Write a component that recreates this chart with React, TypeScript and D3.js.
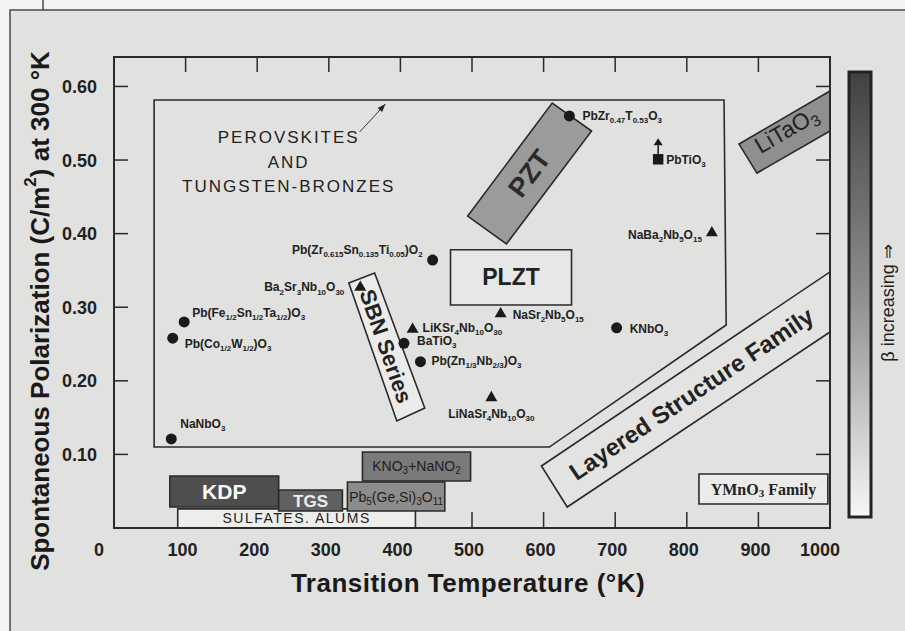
import React, { useEffect, useRef } from "react";
import * as d3 from "d3";

// ferroelectric families: spontaneous polarization vs transition temperature

const compounds = [
  "PbZr_{0.47}T_{0.53}O_3",
  "PbTiO_3",
  "NaBa_2Nb_5O_{15}",
  "Pb(Zr_{0.615}Sn_{0.135}Ti_{0.05})O_2",
  "Ba_2Sr_3Nb_{10}O_{30}",
  "Pb(Fe_{1/2}Sn_{1/2}Ta_{1/2})O_3",
  "Pb(Co_{1/2}W_{1/2})O_3",
  "NaNbO_3",
  "LiKSr_4Nb_{10}O_{30}",
  "BaTiO_3",
  "Pb(Zn_{1/3}Nb_{2/3})O_3",
  "NaSr_2Nb_5O_{15}",
  "LiNaSr_4Nb_{10}O_{30}",
  "KNbO_3",
];
const transitionK = [636, 760, 835, 445, 344, 98, 82, 80, 417, 405, 428, 540, 527, 702];
const polarization = [0.56, 0.501, 0.401, 0.364, 0.327, 0.28, 0.258, 0.121, 0.27, 0.251, 0.226, 0.291, 0.177, 0.272];
const structure = ["perovskite", "perovskite", "bronze", "perovskite", "bronze", "perovskite", "perovskite",
  "perovskite", "bronze", "perovskite", "perovskite", "bronze", "bronze", "perovskite"];
const lowerBound = ["PbTiO_3"];

const regionNames = [
  "PEROVSKITES",
  "SULFATES. ALUMS",
  "KDP",
  "TGS",
  "Pb_5(Ge,Si)_3O_{11}",
  "KNO_3+NaNO_2",
  "PZT",
  "PLZT",
  "SBN Series",
  "Layered Structure Family",
  "LiTaO_3",
  "YMnO_3 Family",
];
// outlines in (°K, C/m2)
const regionOutlines: [number, number][][] = [
  [[56, 0.5815], [852, 0.5815], [855, 0.2758], [608, 0.11], [56, 0.11]],
  [[89, 0.026], [421, 0.026], [421, 0], [89, 0]],
  [[78, 0.0707], [230, 0.0707], [230, 0.0285], [78, 0.0285]],
  [[230, 0.0516], [319, 0.0516], [319, 0.0231], [230, 0.0231]],
  [[326, 0.0625], [462, 0.0625], [462, 0.0231], [326, 0.0231]],
  [[347, 0.1033], [498, 0.1033], [498, 0.0639], [347, 0.0639]],
  [[494, 0.4239], [612, 0.5774], [667, 0.5394], [548, 0.3859]],
  [[470, 0.378], [639, 0.378], [639, 0.303], [470, 0.303]],
  [[328, 0.3329], [395, 0.1454], [434, 0.163], [364, 0.3465]],
  [[597, 0.0842], [1000, 0.348], [1000, 0.2663], [633, 0.0285]],
  [[873, 0.5217], [1000, 0.5938], [1000, 0.5394], [898, 0.4823]],
  [[817, 0.0734], [997, 0.0734], [997, 0.0326], [817, 0.0326]],
];
const perovskiteCaption = ["PEROVSKITES", "AND", "TUNGSTEN-BRONZES"];

const xTicks = [0, 100, 200, 300, 400, 500, 600, 700, 800, 900, 1000];
const yTicks = [0.1, 0.2, 0.3, 0.4, 0.5, 0.6];

const W = 905, H = 631;
const margin = { top: 57, right: 75, bottom: 103, left: 114 };
const FONT = "'Liberation Sans', Arial, Helvetica, sans-serif";

// label offsets in px from the marker
const labelLayout: Record<string, [number, number, string]> = {
  "PbZr_{0.47}T_{0.53}O_3": [13, 4, "start"],
  "PbTiO_3": [8, 5, "start"],
  "NaBa_2Nb_5O_{15}": [-10, 6, "end"],
  "Pb(Zr_{0.615}Sn_{0.135}Ti_{0.05})O_2": [-10, -6, "end"],
  "Ba_2Sr_3Nb_{10}O_{30}": [-16, 4, "end"],
  "Pb(Fe_{1/2}Sn_{1/2}Ta_{1/2})O_3": [8, -5, "start"],
  "Pb(Co_{1/2}W_{1/2})O_3": [12, 10, "start"],
  "NaNbO_3": [9, -11, "start"],
  "LiKSr_4Nb_{10}O_{30}": [10, 3, "start"],
  "BaTiO_3": [13, 2, "start"],
  "Pb(Zn_{1/3}Nb_{2/3})O_3": [11, 3, "start"],
  "NaSr_2Nb_5O_{15}": [12, 5, "start"],
  "LiNaSr_4Nb_{10}O_{30}": [0, 20, "middle"],
  "KNbO_3": [13, 5, "start"],
};

type RegionStyle = {
  fill: string; color: string; size: number; weight?: string; family?: string;
  spacing?: number; at?: [number, number]; rotate?: boolean;
};
const regionStyle: Record<string, RegionStyle> = {
  "PEROVSKITES": { fill: "none", color: "#222", size: 17, spacing: 2, at: [244, 0.523] },
  "SULFATES. ALUMS": { fill: "#ededeb", color: "#222", size: 14, spacing: 1.5 },
  "KDP": { fill: "#4e4e4e", color: "#fafafa", size: 21, weight: "bold" },
  "TGS": { fill: "#606060", color: "#eeeeee", size: 17, weight: "bold" },
  "Pb_5(Ge,Si)_3O_{11}": { fill: "#8c8c8c", color: "#1e1e1e", size: 14 },
  "KNO_3+NaNO_2": { fill: "#7a7a7a", color: "#1e1e1e", size: 14 },
  "PZT": { fill: "#9b9b9b", color: "#2a2a2a", size: 27, weight: "bold", rotate: true },
  "PLZT": { fill: "#e7e7e5", color: "#222", size: 23, weight: "bold" },
  "SBN Series": { fill: "#ebebe9", color: "#222", size: 22, weight: "bold", rotate: true },
  "Layered Structure Family": { fill: "#e3e3e1", color: "#222", size: 24, weight: "bold", rotate: true, at: [806, 0.183] },
  "LiTaO_3": { fill: "#8f8f8f", color: "#222", size: 23, rotate: true, at: [939, 0.541] },
  "YMnO_3 Family": { fill: "#ebebe9", color: "#222", size: 16, weight: "bold", family: "'Liberation Serif', 'Times New Roman', serif" },
};

function appendRich(text: any, str: string, subSize: number) {
  const parts: { t: string; mode: string }[] = [];
  const re = /([_^])(?:\{([^}]*)\}|(.))/g;
  let last = 0;
  let m: RegExpExecArray | null;
  while ((m = re.exec(str))) {
    if (m.index > last) parts.push({ t: str.slice(last, m.index), mode: "" });
    parts.push({ t: m[2] ?? m[3], mode: m[1] });
    last = re.lastIndex;
  }
  if (last < str.length) parts.push({ t: str.slice(last), mode: "" });
  let offset = 0;
  parts.forEach(p => {
    const target = p.mode === "_" ? subSize * 0.4 : p.mode === "^" ? -subSize * 0.75 : 0;
    const ts = text.append("tspan").text(p.t).attr("dy", target - offset);
    if (p.mode) ts.attr("font-size", subSize);
    offset = target;
  });
}

export default function App() {
  const ref = useRef<SVGSVGElement>(null);

  useEffect(() => {
    document.body.style.margin = "0";
    const svg = d3.select(ref.current);
    svg.selectAll("*").remove();

    const left = margin.left, right = W - margin.right;
    const top = margin.top, bottom = H - margin.bottom;
    const x = d3.scaleLinear().domain([0, 1000]).range([left, right]);
    const y = d3.scaleLinear().domain([0, 0.64]).range([bottom, top]);

    // paper
    svg.append("rect").attr("width", W).attr("height", H).attr("fill", "#f3f3f2");
    svg.append("rect").attr("x", 10).attr("y", 10).attr("width", W - 10).attr("height", H - 10).attr("fill", "#e1e1df");
    svg.append("path").attr("d", `M10,${H} V10 H${W} M43,0 V10`)
      .attr("fill", "none").attr("stroke", "#4a4a4a").attr("stroke-width", 1.5);

    const defs = svg.append("defs");
    const grad = defs.append("linearGradient").attr("id", "beta").attr("x1", 0).attr("x2", 0).attr("y1", 0).attr("y2", 1);
    grad.append("stop").attr("offset", 0).attr("stop-color", "#414141");
    grad.append("stop").attr("offset", 0.5).attr("stop-color", "#8e8e8e");
    grad.append("stop").attr("offset", 1).attr("stop-color", "#f6f6f6");

    // inward ticks on all four sides
    const ticks = svg.append("g").attr("stroke", "#2a2a2a").attr("stroke-width", 1.5);
    const inner = xTicks.slice(1, -1);
    ticks.selectAll(".tb").data(inner).enter().append("line")
      .attr("x1", d => x(d)).attr("x2", d => x(d)).attr("y1", bottom).attr("y2", bottom - 16);
    ticks.selectAll(".tt").data(inner).enter().append("line")
      .attr("x1", d => x(d)).attr("x2", d => x(d)).attr("y1", top).attr("y2", top + 15);
    ticks.selectAll(".tl").data(yTicks).enter().append("line")
      .attr("y1", d => y(d)).attr("y2", d => y(d)).attr("x1", left).attr("x2", left + 14);
    ticks.selectAll(".tr").data(yTicks).enter().append("line")
      .attr("y1", d => y(d)).attr("y2", d => y(d)).attr("x1", right).attr("x2", right - 14);

    // regions
    const line = d3.line<[number, number]>().x(d => x(d[0])).y(d => y(d[1]));
    regionNames.forEach((name, i) => {
      const pts = regionOutlines[i];
      const st = regionStyle[name];
      svg.append("path").attr("d", line(pts) + "Z")
        .attr("fill", st.fill).attr("stroke", "#2a2a2a").attr("stroke-width", 1.6)
        .attr("stroke-linejoin", "miter");

      if (name === "PEROVSKITES") {
        const [ax, ay] = st.at!;
        svg.selectAll(".cap").data(perovskiteCaption).enter().append("text")
          .attr("x", x(ax)).attr("y", (d, k) => y(ay) + k * 24.5)
          .attr("text-anchor", "middle").attr("font-family", FONT).attr("font-size", st.size)
          .attr("letter-spacing", st.spacing!).attr("fill", st.color).text(d => d);
        return;
      }

      const cx = st.at ? x(st.at[0]) : d3.mean(pts, p => x(p[0]))!;
      const cy = st.at ? y(st.at[1]) : d3.mean(pts, p => y(p[1]))!;
      const a = Math.atan2(y(pts[1][1]) - y(pts[0][1]), x(pts[1][0]) - x(pts[0][0])) * 180 / Math.PI;
      const t = svg.append("text")
        .attr("transform", `translate(${cx},${cy}) rotate(${st.rotate ? a : 0})`)
        .attr("text-anchor", "middle").attr("dominant-baseline", "central")
        .attr("font-family", st.family ?? FONT).attr("font-size", st.size)
        .attr("font-weight", st.weight ?? "normal").attr("fill", st.color)
        .attr("letter-spacing", st.spacing ?? 0);
      appendRich(t, name, Math.round(st.size * 0.68));
    });

    // arrow from the caption to the perovskite outline
    const ax0 = x(343), ay0 = y(0.538), ax1 = x(379), ay1 = y(0.576);
    svg.append("line").attr("x1", ax0).attr("y1", ay0).attr("x2", ax1).attr("y2", ay1)
      .attr("stroke", "#333").attr("stroke-width", 1);
    const ang = Math.atan2(ay1 - ay0, ax1 - ax0) * 180 / Math.PI;
    svg.append("path").attr("d", "M0,0 L-8,-3 L-8,3 Z")
      .attr("transform", `translate(${ax1},${ay1}) rotate(${ang})`).attr("fill", "#222");

    // frame
    svg.append("rect").attr("x", left).attr("y", top).attr("width", right - left).attr("height", bottom - top)
      .attr("fill", "none").attr("stroke", "#2a2a2a").attr("stroke-width", 2);

    // compounds
    const tri = d3.symbol().type(d3.symbolTriangle).size(62);
    const sq = d3.symbol().type(d3.symbolSquare).size(110);
    compounds.forEach((name, i) => {
      const px = x(transitionK[i]), py = y(polarization[i]);
      if (lowerBound.includes(name)) {
        svg.append("path").attr("d", sq()).attr("transform", `translate(${px},${py})`).attr("fill", "#1a1a1a");
        svg.append("line").attr("x1", px).attr("x2", px).attr("y1", py - 5).attr("y2", py - 14)
          .attr("stroke", "#1a1a1a").attr("stroke-width", 1.5);
        svg.append("path").attr("d", "M0,-7 L4.5,0 L-4.5,0 Z").attr("transform", `translate(${px},${py - 14})`).attr("fill", "#1a1a1a");
      } else if (structure[i] === "bronze") {
        svg.append("path").attr("d", tri()).attr("transform", `translate(${px},${py})`).attr("fill", "#1a1a1a");
      } else {
        svg.append("circle").attr("cx", px).attr("cy", py).attr("r", 5.5).attr("fill", "#1a1a1a");
      }
      const [dx, dy, anchor] = labelLayout[name];
      const t = svg.append("text").attr("x", px + dx).attr("y", py + dy)
        .attr("text-anchor", anchor).attr("font-family", FONT).attr("font-size", 12)
        .attr("font-weight", "bold").attr("fill", "#222");
      appendRich(t, name, 8);
    });

    // tick labels
    svg.selectAll(".xl").data(xTicks).enter().append("text")
      .attr("x", d => x(d) + (d === 0 ? -15 : d === 1000 ? -10 : -3)).attr("y", bottom + 28)
      .attr("text-anchor", "middle").attr("font-family", FONT).attr("font-size", 18)
      .attr("font-weight", "bold").attr("fill", "#222").text(d => d);
    svg.selectAll(".yl").data(yTicks).enter().append("text")
      .attr("x", left - 17).attr("y", d => y(d)).attr("dy", "0.36em")
      .attr("text-anchor", "end").attr("font-family", FONT).attr("font-size", 18)
      .attr("font-weight", "bold").attr("fill", "#222").text(d => d.toFixed(2));

    // axis titles
    svg.append("text").attr("x", (left + right) / 2 - 4).attr("y", 592)
      .attr("text-anchor", "middle").attr("font-family", FONT).attr("font-size", 26)
      .attr("font-weight", "bold").attr("letter-spacing", 0.5).attr("fill", "#1a1a1a")
      .text("Transition Temperature (°K)");
    const yt = svg.append("text").attr("transform", `translate(49,311) rotate(-90)`)
      .attr("text-anchor", "middle").attr("font-family", FONT).attr("font-size", 26)
      .attr("font-weight", "bold").attr("fill", "#1a1a1a");
    appendRich(yt, "Spontaneous Polarization (C/m^2) at 300 °K", 17);

    // beta scale bar
    const barX = right + 19, barTop = 72, barBottom = 517;
    svg.append("rect").attr("x", barX).attr("y", barTop).attr("width", 22).attr("height", barBottom - barTop)
      .attr("fill", "url(#beta)").attr("stroke", "#222").attr("stroke-width", 3);
    svg.append("text").attr("transform", `translate(894,303) rotate(-90)`)
      .attr("text-anchor", "middle").attr("font-family", FONT).attr("font-size", 18)
      .attr("fill", "#222").text("β increasing ⇒");
  }, []);

  return <svg ref={ref} width={W} height={H} style={{ display: "block" }} />;
}
